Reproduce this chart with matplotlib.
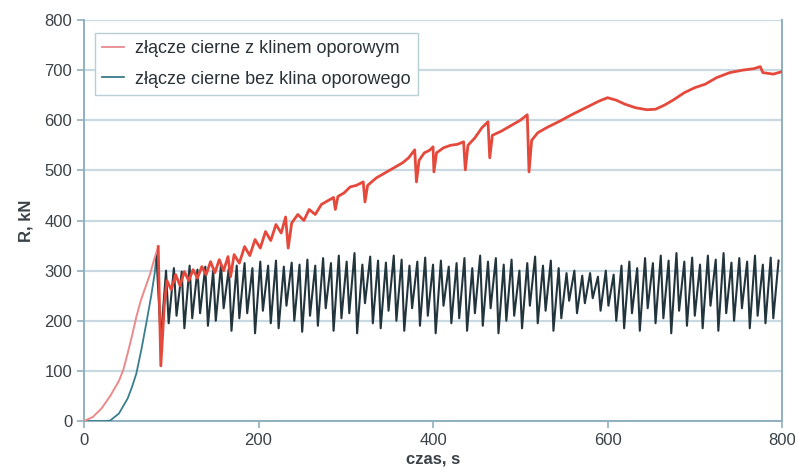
import numpy as np
import matplotlib
matplotlib.use('Agg')
import matplotlib.pyplot as plt

plt.rcParams['font.family'] = ['Liberation Sans', 'DejaVu Sans']

# Red curve: joint with the stop wedge (time s, force kN)
red_t = [0, 10, 20, 30, 40, 45, 50, 55, 60, 65, 70, 76, 80, 85, 88, 92, 95, 100, 105, 110,
         115, 120, 125, 130, 135, 140, 145, 150, 155, 160, 165, 168, 172, 178, 184, 190, 196, 202, 208, 214,
         220, 226, 231, 234, 238, 245, 252, 258, 265, 272, 280, 286, 288, 291, 298, 305, 312, 320, 322, 325,
         335, 345, 355, 365, 372, 379, 381, 384, 390, 396, 400, 401, 404, 412, 420, 428, 435, 437, 440, 448,
         456, 463, 465, 468, 478, 490, 500, 508, 510, 513, 520, 530, 545, 560, 575, 590, 600, 610, 620, 632,
         645, 655, 665, 675, 688, 700, 712, 725, 740, 755, 768, 775, 778, 782, 790, 800]
red_r = [0, 8, 25, 50, 80, 102, 135, 170, 208, 240, 265, 295, 320, 348, 110, 230, 280, 262, 292, 270,
         298, 280, 302, 285, 308, 292, 318, 296, 322, 300, 328, 288, 332, 315, 348, 330, 362, 345, 378, 360,
         392, 375, 407, 345, 395, 412, 400, 422, 412, 432, 440, 446, 422, 448, 455, 467, 470, 477, 437, 470,
         485, 495, 505, 515, 525, 541, 477, 520, 535, 540, 547, 497, 535, 545, 550, 552, 557, 501, 550, 565,
         585, 597, 525, 570, 578, 590, 600, 611, 497, 560, 575, 585, 598, 612, 625, 638, 645, 640, 632, 625,
         621, 622, 630, 640, 655, 665, 672, 685, 695, 700, 703, 707, 695, 694, 692, 697]

# Black curve: joint without the stop wedge - initial ramp
black_ramp_t = [0, 25, 30, 40, 50, 55, 60, 66, 72, 77, 81, 83]
black_ramp_r = [0, 0, 1, 15, 45, 68, 95, 145, 201, 250, 295, 331]

# then oscillation: valleys from 88 s, one cycle ~9 s
black_valley = [162, 195, 210, 185, 205, 215, 190, 200, 225, 180,
                205, 215, 175, 220, 195, 185, 230, 200, 178, 210,
                190, 225, 180, 205, 215, 175, 235, 195, 185, 220,
                200, 180, 225, 190, 210, 175, 230, 195, 205, 180,
                215, 190, 225, 175, 200, 210, 185, 230, 195, 220,
                180, 205, 240, 215, 235, 245, 220, 230, 200, 185,
                215, 180, 225, 195, 205, 175, 220, 190, 210, 185,
                230, 180, 215, 200, 225, 185, 210, 195, 205]
black_peak = [300, 305, 298, 310, 302, 308, 300, 312, 305, 310,
              315, 305, 318, 310, 320, 308, 316, 312, 322, 310,
              325, 315, 330, 318, 335, 312, 328, 320, 316, 330,
              322, 310, 318, 326, 312, 320, 308, 315, 325, 305,
              330, 318, 325, 312, 322, 300, 315, 328, 310, 320,
              305, 295, 300, 290, 295, 288, 300, 292, 310, 318,
              305, 325, 315, 330, 320, 335, 318, 326, 312, 330,
              322, 335, 316, 325, 318, 330, 312, 326, 320]

labels = ['złącze cierne z klinem oporowym', 'złącze cierne bez klina oporowego']

# build black series
osc_t, osc_r = [], []
for k in range(len(black_valley)):
    osc_t += [88 + 9 * k, 94 + 9 * k]
    osc_r += [black_valley[k], black_peak[k]]
black_t = black_ramp_t + osc_t
black_r = black_ramp_r + osc_r

fig = plt.figure(figsize=(7.95, 4.76), dpi=100)
ax = fig.add_axes([0.1057, 0.1155, 0.878, 0.8425])

# ramps look lighter in the original (thin lines)
ax.plot(black_ramp_t, black_ramp_r, color='#3a7e8e', lw=1.3, zorder=3)
ax.plot(black_t[len(black_ramp_t) - 1:], black_r[len(black_ramp_r) - 1:],
        color='#22343c', lw=1.5, zorder=3)
n_ramp = 14
ax.plot(red_t[:n_ramp], red_r[:n_ramp], color='#ec8a8a', lw=1.4, zorder=4)
ax.plot(red_t[n_ramp - 1:], red_r[n_ramp - 1:], color='#e4493c', lw=2.0, zorder=4)

ax.set_xlim(0, 800)
ax.set_ylim(0, 800)
ax.set_xticks(range(0, 801, 200))
ax.set_yticks(range(0, 801, 100))
ax.yaxis.grid(True, color='#c9d9e1', lw=1.6)
ax.set_axisbelow(True)

for s in ['left', 'bottom', 'right']:
    ax.spines[s].set_color('#8fb0c0')
    ax.spines[s].set_linewidth(1.4)
ax.spines['top'].set_visible(False)
ax.tick_params(colors='#8fb0c0', labelcolor='#3a4248', labelsize=12, length=5, width=1.2)

ax.set_xlabel('czas, s', fontsize=12, fontweight='bold', color='#3a4248', labelpad=3)
ax.set_ylabel('R, kN', fontsize=12, fontweight='bold', color='#3a4248', labelpad=8)

h1, = ax.plot([], [], color='#e88a90', lw=1.3)
h2, = ax.plot([], [], color='#3a7a8a', lw=1.3)
leg = ax.legend([h1, h2], labels, loc='upper left', bbox_to_anchor=(0.016, 0.968),
                borderaxespad=0, fontsize=13, handlelength=1.2, labelspacing=0.75,
                handletextpad=0.6, fancybox=False, framealpha=1, edgecolor='#b8cfd8')
for t in leg.get_texts():
    t.set_color('#2a3238')

fig.savefig('out.png', dpi=100)
